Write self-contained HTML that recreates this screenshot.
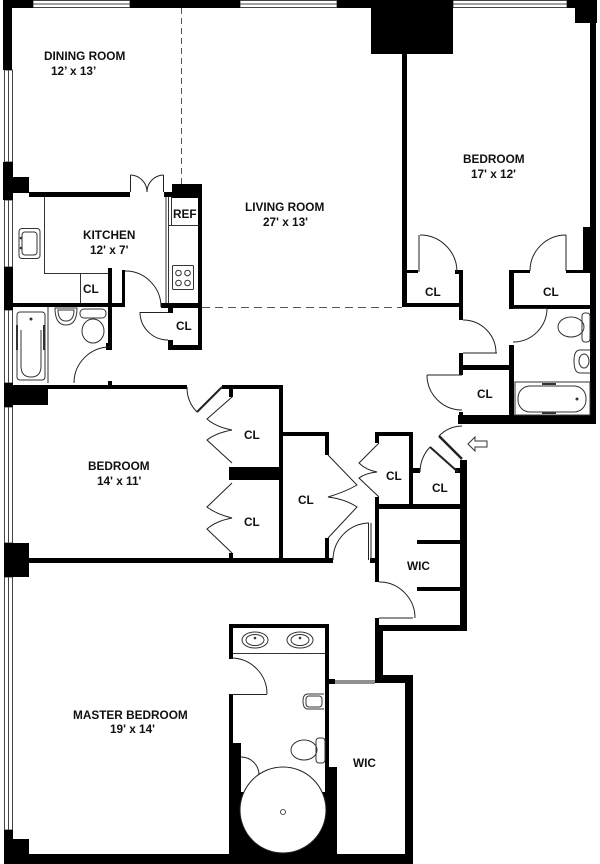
<!DOCTYPE html>
<html><head><meta charset="utf-8">
<style>
html,body{margin:0;padding:0;background:#fff;}
svg{display:block;}
text{font-family:"Liberation Sans",Arial,sans-serif;font-weight:bold;font-size:11.8px;fill:#111;}
</style></head>
<body>
<svg width="600" height="864" viewBox="0 0 600 864" xmlns="http://www.w3.org/2000/svg">
<rect width="600" height="864" fill="#fff"/>

<!-- windows top -->
<g fill="#fff" stroke="#444" stroke-width="1">
<rect x="33" y="0.5" width="97" height="7"/><line x1="33" y1="4" x2="130" y2="4"/>
<rect x="240" y="0.5" width="97" height="7"/><line x1="240" y1="4" x2="337" y2="4"/>
<rect x="453" y="0.5" width="114" height="7"/><line x1="453" y1="4" x2="567" y2="4"/>
<!-- windows left -->
<rect x="4.5" y="70" width="8" height="92"/><line x1="8.5" y1="70" x2="8.5" y2="162"/>
<rect x="4.5" y="200" width="8" height="67"/><line x1="8.5" y1="200" x2="8.5" y2="267"/>
<rect x="4.5" y="310" width="8" height="73"/><line x1="8.5" y1="310" x2="8.5" y2="383"/>
<rect x="4.5" y="407" width="8" height="136"/><line x1="8.5" y1="407" x2="8.5" y2="543"/>
<rect x="4.5" y="577" width="8" height="253"/><line x1="8.5" y1="577" x2="8.5" y2="830"/>
</g>

<!-- dashed lines -->
<g stroke="#555" stroke-width="1" fill="none">
<line x1="181.5" y1="8" x2="181.5" y2="184" stroke-dasharray="6,4"/>
<line x1="202" y1="307.5" x2="402" y2="307.5" stroke-dasharray="8,5"/>
</g>

<!-- walls -->
<g fill="#000">
<rect x="3" y="0" width="30" height="8"/>
<rect x="130" y="0" width="110" height="8"/>
<rect x="337" y="0" width="116" height="8"/>
<rect x="371" y="0" width="82" height="54"/>
<rect x="567" y="0" width="30" height="8"/>
<rect x="575" y="0" width="22" height="23"/>
<rect x="590" y="0" width="6" height="424"/>
<rect x="583" y="227" width="13" height="43"/>

<rect x="3" y="0" width="9" height="70"/>
<rect x="3" y="162" width="10" height="38"/>
<rect x="12" y="177" width="17" height="16"/>
<rect x="4" y="267" width="9" height="43"/>
<rect x="4" y="383" width="9" height="24"/>
<rect x="13" y="385" width="35" height="20"/>
<rect x="4" y="543" width="9" height="34"/>
<rect x="13" y="543" width="16" height="34"/>
<rect x="4" y="830" width="9" height="34"/>
<rect x="13" y="839" width="16" height="15"/>
<rect x="4" y="854" width="409" height="10"/>

<!-- kitchen -->
<rect x="29" y="192" width="101" height="5"/>
<rect x="164" y="192" width="10" height="5"/>
<rect x="172" y="184" width="30" height="14"/>
<rect x="198" y="184" width="4" height="166"/>
<rect x="4" y="303" width="121" height="4"/>
<rect x="108" y="268" width="4" height="82"/>
<rect x="122" y="270" width="3" height="37"/>
<rect x="161" y="303" width="41" height="5"/>
<rect x="168" y="303" width="5" height="10"/>
<rect x="168" y="345" width="34" height="5"/>
<rect x="168" y="340" width="5" height="10"/>
<rect x="106" y="343" width="6" height="7"/>

<!-- left bedroom -->
<rect x="48" y="385" width="139" height="4"/>
<rect x="108" y="381" width="4" height="5"/>
<rect x="222" y="385" width="61" height="4"/>
<rect x="229" y="387" width="4" height="10"/>
<rect x="279" y="385" width="4" height="178"/>
<rect x="229" y="467" width="51" height="13"/>
<rect x="229" y="553" width="4" height="8"/>
<rect x="29" y="558" width="304" height="5"/>

<!-- middle closets -->
<rect x="283" y="432" width="46" height="4"/>
<rect x="325" y="432" width="4" height="23"/>
<rect x="325" y="538" width="4" height="25"/>
<rect x="370" y="558" width="5" height="5"/>
<rect x="375" y="432" width="38" height="4"/>
<rect x="409" y="432" width="4" height="76"/>
<rect x="375" y="432" width="4" height="11"/>
<rect x="375" y="497" width="4" height="85"/>
<rect x="375" y="504" width="92" height="5"/>
<rect x="413" y="468" width="7" height="5"/>
<rect x="460" y="460" width="7" height="171"/>
<rect x="455" y="468" width="5" height="5"/>

<!-- upper WIC -->
<rect x="375" y="618" width="4" height="12"/>
<rect x="375" y="625" width="92" height="6"/>
<rect x="417" y="540" width="43" height="4"/>
<rect x="417" y="587" width="43" height="4"/>

<!-- lower WIC / master bath -->
<rect x="375" y="630" width="8" height="53"/>
<rect x="375" y="675" width="38" height="8"/>
<rect x="405" y="675" width="8" height="189"/>
<rect x="328" y="679" width="7" height="5"/>
<rect x="229" y="624" width="100" height="4"/>
<rect x="229" y="624" width="4" height="35"/>
<rect x="229" y="694" width="4" height="49"/>
<rect x="229" y="743" width="12" height="121"/>
<rect x="325" y="624" width="4" height="143"/>
<rect x="325" y="767" width="12" height="97"/>
<rect x="229" y="792" width="108" height="72"/>

<!-- right bedroom -->
<rect x="402" y="54" width="5" height="253"/>
<rect x="402" y="270" width="16" height="3"/>
<rect x="455" y="270" width="8" height="4"/>
<rect x="459" y="270" width="4" height="50"/>
<rect x="402" y="303" width="61" height="4"/>
<rect x="459" y="353" width="4" height="22"/>
<rect x="459" y="365" width="55" height="5"/>
<rect x="459" y="412" width="4" height="11"/>
<rect x="458" y="415" width="138" height="9"/>
<rect x="509" y="345" width="5" height="75"/>
<rect x="509" y="270" width="5" height="38"/>
<rect x="509" y="270" width="21" height="3"/>
<rect x="566" y="270" width="29" height="3"/>
<rect x="509" y="305" width="87" height="4"/>
</g>

<!-- shower circle -->
<circle cx="283" cy="810" r="43" fill="#fff" stroke="#222" stroke-width="1"/>
<circle cx="283" cy="812" r="2.5" fill="#fff" stroke="#222" stroke-width="0.8"/>

<!-- doors -->
<g fill="none" stroke="#222" stroke-width="1">
<!-- french doors -->
<line x1="130.5" y1="175" x2="130.5" y2="192"/>
<line x1="163.5" y1="175" x2="163.5" y2="192"/>
<path d="M130.5,175 A17,17 0 0 1 147,192"/>
<path d="M163.5,175 A17,17 0 0 0 147,192"/>
<!-- kitchen door -->
<path d="M125,271 A36,36 0 0 1 161,307"/>
<!-- CL under kitchen -->
<line x1="140" y1="312.5" x2="168" y2="312.5"/>
<path d="M140,312 A28,28 0 0 0 168,340"/>
<!-- bath door -->
<path d="M110,347 A36,36 0 0 0 74,383"/>
<!-- left bedroom door -->
<path d="M187,387 A35,35 0 0 0 197,412"/>
<line x1="222" y1="387" x2="197" y2="412" stroke-width="2"/>
<!-- bifolds -->
<path d="M232,397 L207,419 Q216,427 232,430 Q216,433 207,440 L232,463"/>
<path d="M232,483 L207,507 Q216,514 232,518 Q216,521 207,529 L232,553"/>
<path d="M328,455 L357,485 Q345,492 328,497 Q345,499 357,507 L328,538"/>
<path d="M379,443 L359,463 Q366,470 377,472 Q366,473 359,478 L379,497"/>
<!-- master door -->
<path d="M333,560 A37,37 0 0 1 369,523"/>
<line x1="368.5" y1="523" x2="368.5" y2="560"/>
<line x1="371" y1="523" x2="371" y2="560"/>
<!-- CL2 door -->
<line x1="458" y1="472" x2="430" y2="447" stroke-width="2"/>
<path d="M430,447 A37.5,37.5 0 0 0 420,472"/>
<!-- entry door -->
<line x1="462" y1="459" x2="439" y2="436" stroke-width="2.5"/>
<path d="M439,436 A33,33 0 0 1 462,426"/>
<!-- entry arrow -->
<path d="M468,444 L475,437 L475,441 L487,441 L487,447 L475,447 L475,451 Z" stroke="#333"/>
<!-- upper WIC door -->
<path d="M379,582 A36,36 0 0 1 415,618"/>
<line x1="379" y1="618" x2="413" y2="618"/>
<!-- lower WIC door -->
<line x1="335" y1="681" x2="375" y2="681"/>
<line x1="335" y1="683" x2="375" y2="683"/>
<!-- master bath door -->
<path d="M231,658 A36,36 0 0 1 267,694"/>
<line x1="231" y1="694.5" x2="267" y2="694.5"/>
<!-- shower door -->
<path d="M241,757 A18,18 0 0 1 259,775"/>
<!-- right bedroom CL left -->
<line x1="419" y1="235" x2="419" y2="272"/>
<path d="M420,235 A37,37 0 0 1 457,272"/>
<!-- right bedroom CL right -->
<line x1="566" y1="235" x2="566" y2="271"/>
<path d="M566,235 A36,36 0 0 0 530,271"/>
<!-- corridor door -->
<path d="M463,320 A33,33 0 0 1 496,353"/>
<line x1="463" y1="353" x2="497" y2="353"/>
<!-- upper CL door -->
<line x1="427" y1="375" x2="462" y2="375"/>
<path d="M427,375 A35,35 0 0 0 462,410"/>
<!-- right bath door -->
<line x1="513" y1="308.5" x2="547" y2="308.5"/>
<path d="M547,308 A34,34 0 0 1 513,342"/>
</g>

<!-- fixtures -->
<g fill="none" stroke="#333" stroke-width="1">
<!-- kitchen counters -->
<line x1="44.5" y1="197" x2="44.5" y2="273"/>
<line x1="44" y1="273.5" x2="108" y2="273.5"/>
<line x1="80.5" y1="273" x2="80.5" y2="303"/>
<line x1="166" y1="197" x2="166" y2="303"/>
<line x1="168.5" y1="197" x2="168.5" y2="303"/>
<line x1="171.5" y1="197" x2="171.5" y2="225"/>
<line x1="168" y1="225.5" x2="198" y2="225.5"/>
<rect x="172.5" y="265.5" width="21" height="24" rx="1"/>
<circle cx="178.5" cy="273" r="2.8"/><circle cx="187.5" cy="273" r="2.8"/>
<circle cx="178.5" cy="283" r="2.8"/><circle cx="187.5" cy="283" r="2.8"/>
<!-- kitchen sink -->
<rect x="19" y="228.5" width="21" height="30" rx="3"/>
<rect x="22" y="232" width="15" height="23" rx="3"/>
<circle cx="21" cy="238" r="0.8" fill="#333"/><circle cx="21" cy="248" r="0.8" fill="#333"/>
<!-- left bath tub -->
<line x1="48" y1="307" x2="48" y2="383"/>
<rect x="17" y="312" width="28" height="68" rx="3"/>
<path d="M21,330 L21,366 Q21,377 31,377 Q41,377 41,366 L41,330"/>
<line x1="17" y1="325" x2="17" y2="350" stroke-width="2"/>
<line x1="44" y1="325" x2="44" y2="350" stroke-width="2"/>
<circle cx="31" cy="319" r="1" fill="#333"/>
<!-- left sink -->
<path d="M55,308 L77,308 Q77,325 66,325 Q55,325 55,308 Z"/>
<path d="M58,310 L74,310 Q74,321 66,321 Q58,321 58,310 Z"/>
<!-- left toilet -->
<rect x="80" y="309" width="26" height="9" rx="4"/>
<ellipse cx="93" cy="331" rx="11" ry="12"/>
<!-- master bath -->
<line x1="233" y1="653.5" x2="325" y2="653.5"/>
<ellipse cx="255" cy="640" rx="13" ry="8"/><ellipse cx="255" cy="640" rx="9" ry="5.5"/>
<ellipse cx="300" cy="640" rx="13" ry="8"/><ellipse cx="300" cy="640" rx="9" ry="5.5"/>
<circle cx="255" cy="638" r="0.8" fill="#333"/><circle cx="300" cy="638" r="0.8" fill="#333"/>
<path d="M324,694 L308,694 Q303,694 303,701 Q303,709 308,709 L324,709"/>
<rect x="306" y="696" width="16" height="11" rx="3"/>
<ellipse cx="304" cy="750" rx="13" ry="10"/>
<rect x="316" y="738" width="9" height="25" rx="3"/>
<!-- right bath -->
<ellipse cx="571" cy="327" rx="13" ry="10"/>
<rect x="582" y="313" width="8" height="29" rx="3"/>
<path d="M590,350 L580,350 Q574,350 574,361 Q574,373 580,373 L590,373"/>
<ellipse cx="584" cy="361" rx="5" ry="7"/>
<rect x="515" y="382" width="75" height="33"/>
<rect x="518" y="386" width="68" height="26" rx="12"/>
<line x1="542" y1="384" x2="556" y2="384" stroke-width="2"/>
<line x1="542" y1="413" x2="556" y2="413" stroke-width="2"/>
<circle cx="577" cy="399" r="1" fill="#333"/>
</g>

<!-- labels -->
<text x="44" y="60">DINING ROOM</text>
<text x="51" y="75">12’ x 13’</text>
<text x="245" y="211">LIVING ROOM</text>
<text x="263" y="226">27' x 13'</text>
<text x="463" y="163">BEDROOM</text>
<text x="471" y="178">17' x 12'</text>
<text x="83" y="239">KITCHEN</text>
<text x="90" y="254">12' x 7'</text>
<text x="173" y="218">REF</text>
<text x="83" y="293">CL</text>
<text x="176" y="330">CL</text>
<text x="425" y="296">CL</text>
<text x="543" y="296">CL</text>
<text x="477" y="398">CL</text>
<text x="88" y="470">BEDROOM</text>
<text x="97" y="485">14' x 11'</text>
<text x="244" y="439">CL</text>
<text x="244" y="526">CL</text>
<text x="298" y="504">CL</text>
<text x="386" y="480">CL</text>
<text x="432" y="492">CL</text>
<text x="407" y="570">WIC</text>
<text x="73" y="719">MASTER BEDROOM</text>
<text x="110" y="733">19' x 14'</text>
<text x="353" y="767">WIC</text>
</svg>
</body></html>
